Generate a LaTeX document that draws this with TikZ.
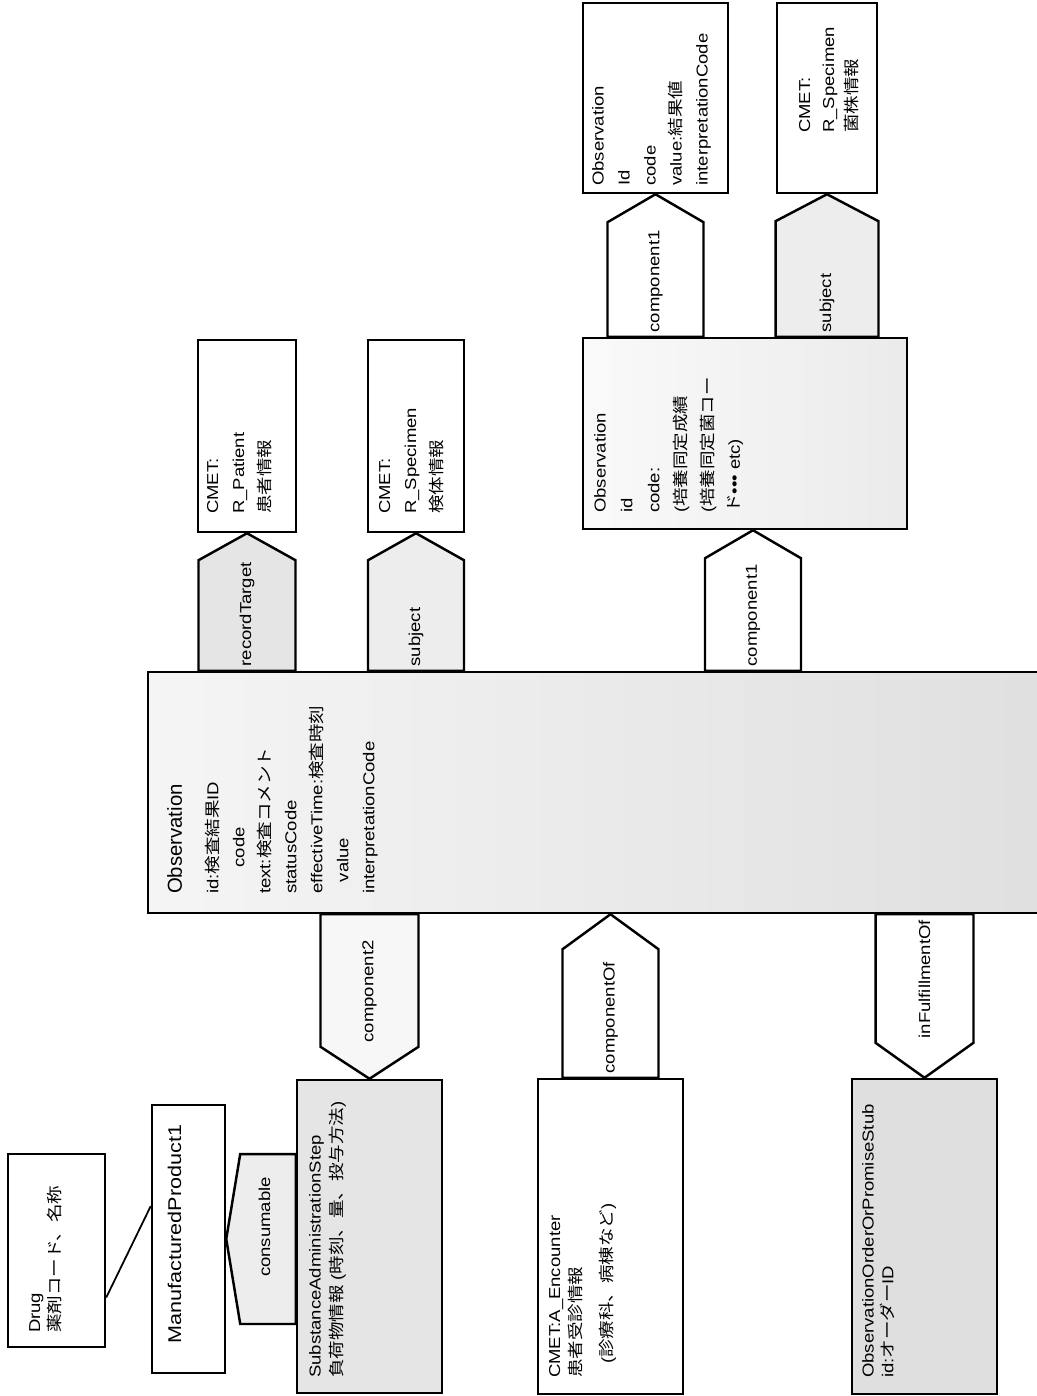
\documentclass[tikz,border=0pt]{standalone}
\usepackage{fontspec}
\usepackage{graphicx}
\setmainfont{Liberation Sans}
\newfontfamily\jafont{Noto Sans CJK JP}
\newcommand{\ja}[1]{{\jafont #1}}
\usetikzlibrary{calc,fit}

\begin{document}
\begin{tikzpicture}[
    x=0.02cm, y=-0.02cm,
    box/.style={draw,line width=1.4pt,inner sep=0pt,fill=white},
    txt/.style={rotate=90,xscale=1.17,anchor=north west,align=left,inner sep=0pt,font=\fontsize{9}{#1}\selectfont},
    txt/.default=14.8pt,
    lbl/.style={rotate=90,xscale=1.17,anchor=west,inner sep=2pt,font=\fontsize{9}{11}\selectfont},
    assoc/.style 2 args={draw,line width=1.4pt,to path={
        ($(\tikztostart)!#2!90:(\tikztotarget)$)
        -- ($(\tikztotarget)!#1!(\tikztostart)!#2!90:(\tikztotarget)$)
        -- (\tikztotarget)
        -- ($(\tikztotarget)!#1!(\tikztostart)!#2!-90:(\tikztotarget)$)
        -- ($(\tikztostart)!#2!-90:(\tikztotarget)$) -- cycle}}
]
\useasboundingbox (0,0) rectangle (1037,1396);
\fill[white] (0,0) rectangle (1037,1396);
\clip (0,0) rectangle (1037,1396);

% classes
\node[box, fit={(8,1154) (105,1347)}] (drug) {};
\node[box, fit={(152,1105) (225,1373)}] (mprod) {};
\node[box, fill=gray!20, fit={(297,1080) (442,1393)}] (subst) {};
\node[box, fit={(538,1079) (683,1394)}] (encnt) {};
\node[box, fill=gray!25, fit={(852,1079) (997,1394)}] (order) {};
\node[box, left color=gray!8, right color=gray!25, fit={(148,672) (1060,913)}] (obs) {};
\node[box, fit={(198,340) (296,532)}] (pat) {};
\node[box, fit={(368,340) (464,532)}] (spec) {};
\node[box, left color=gray!4, right color=gray!16, fit={(583,338) (907,529)}] (cult) {};
\node[box, fit={(583,3) (728,193)}] (res) {};
\node[box, fit={(777,3) (877,193)}] (strain) {};

% class texts
\node[txt=11.5pt] (drugT) at ($(drug.south west)+(22,-15)$) {Drug\\\ja{薬剤コード、名称}};
\node[rotate=90,xscale=1.17,font=\fontsize{10.5}{12}\selectfont] (mprodT) at ($(mprod.center)+(-14,-5)$) {ManufacturedProduct1};
\node[txt=12.5pt] (substT) at ($(subst.south west)+(13,-16)$) {SubstanceAdministrationStep\\\ja{負荷物情報} (\ja{時刻、量、投与方法})};
\node[txt=12pt] (encntT) at ($(encnt.south west)+(12,-17)$) {CMET:A\_Encounter\\\ja{患者受診情報}\\[6pt]\hspace*{0.24cm}(\ja{診療科、病棟など})};
\node[txt=11.3pt] (orderT) at ($(order.south west)+(11,-17)$) {ObservationOrderOrPromiseStub\\id:\ja{オーダー}ID};
\node[txt] (obsT) at ($(obs.south west)+(20,-20)$) {\scalebox{.86}[1]{\fontsize{11.5}{13}\selectfont Observation}\\[6pt]
    id:\ja{検査結果}ID\\\hspace*{0.45cm}code\\text:\ja{検査コメント}\\statusCode\\effectiveTime:\ja{検査時刻}\\\hspace*{0.2cm}value\\interpretationCode};
\node[txt] (patT) at ($(pat.south west)+(10,-19)$) {CMET:\\R\_Patient\\\ja{患者情報}};
\node[txt] (specT) at ($(spec.south west)+(12,-19)$) {CMET:\\R\_Specimen\\\ja{検体情報}};
\node[txt=15.3pt] (cultT) at ($(cult.south west)+(12,-17)$) {Observation\\id\\code:\\(\ja{培養同定成績}\\(\ja{培養同定菌コー}\\\ja{ド}••• etc)};
\node[txt] (resT) at ($(res.south west)+(10,-8)$) {Observation\\Id\\code\\value:\ja{結果値}\\interpretationCode};
\node[txt=13.6pt] (strainT) at ($(strain.south west)+(23,-61)$) {CMET:\\R\_Specimen\\\ja{菌株情報}};

% associations
\draw[line width=1pt] ($(drug.east)+(0,47)$) -- ($(mprod.west)+(0,-33)$);

\draw[assoc={0.28cm}{1.7cm}, fill=gray!14] (subst.west |- mprod) to (mprod.east);
\node[lbl, anchor=center] (lcons) at ($(mprod.east)!.55!(subst.west |- mprod)+(0,-12)$) {consumable};

\draw[assoc={0.64cm}{0.98cm}, fill=gray!6] (obs.south -| subst) to (subst.north);
\node[lbl] (lcomp2) at ($(subst.north)+(0,-32)$) {component2};

\draw[assoc={0.7cm}{0.96cm}] (encnt.north) to (obs.south -| encnt);
\node[lbl] (lcompof) at (encnt.north) {componentOf};

\draw[assoc={0.7cm}{0.98cm}] (obs.south -| order) to (order.north);
\node[lbl] (linful) at ($(order.north)+(0,-35)$) {inFulfillmentOf};

\draw[assoc={0.54cm}{0.97cm}, fill=gray!20] (obs.north -| pat) to (pat.south);
\node[lbl] (lrec) at (obs.north -| pat) {recordTarget};

\draw[assoc={0.54cm}{0.96cm}, fill=gray!14] (obs.north -| spec) to (spec.south);
\node[lbl] (lsubj) at (obs.north -| spec) {subject};

\draw[assoc={0.56cm}{0.96cm}] ($(obs.north -| cult)+(8,0)$) to ($(cult.south)+(8,0)$);
\node[lbl] (lcomp1b) at ($(obs.north -| cult)+(8,0)$) {component1};

\draw[assoc={0.56cm}{0.96cm}] (cult.north -| res) to (res.south);
\node[lbl] (lcomp1a) at (cult.north -| res) {component1};

\draw[assoc={0.54cm}{1.03cm}, fill=gray!14] (cult.north -| strain) to (strain.south);
\node[lbl] (lsubj2) at (cult.north -| strain) {subject};
\end{tikzpicture}
\end{document}
